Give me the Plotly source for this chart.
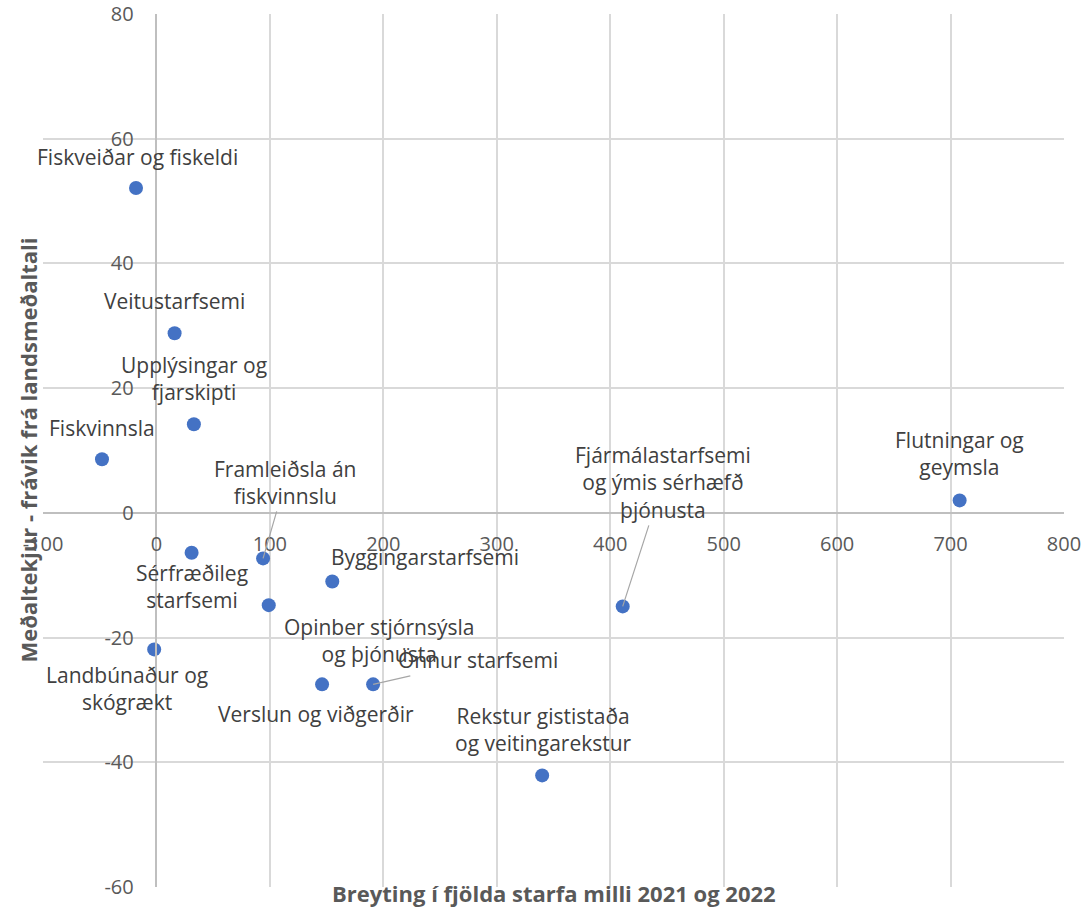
import plotly.graph_objects as go

names = [
    "Fiskveiðar og fiskeldi",
    "Veitustarfsemi",
    "Upplýsingar og<br>fjarskipti",
    "Fiskvinnsla",
    "Flutningar og<br>geymsla",
    "Fjármálastarfsemi<br>og ýmis sérhæfð<br>þjónusta",
    "Framleiðsla án<br>fiskvinnslu",
    "Sérfræðileg<br>starfsemi",
    "Byggingarstarfsemi",
    "Opinber stjórnsýsla<br>og þjónusta",
    "Önnur starfsemi",
    "Verslun og viðgerðir",
    "Landbúnaður og<br>skógrækt",
    "Rekstur gististaða<br>og veitingarekstur",
]
job_change = [-18, 16, 33, -48, 708, 411, 94, 31, 155, 99, 191, 146, -2, 340]
income_dev = [52.1, 28.8, 14.2, 8.6, 2.0, -15.0, -7.3, -6.4, -11.0, -14.8, -27.5, -27.5, -21.9, -42.1]

x_ticks = [-100, 0, 100, 200, 300, 400, 500, 600, 700, 800]
x_tick_labels = ["-100", "0", "100", "200", "300", "400", "500", "600", "700", "800"]
y_ticks = [-60, -40, -20, 0, 20, 40, 60, 80]
y_tick_labels = ["-60", "-40", "-20", "0", "20", "40", "60", "80"]

x_title = "Breyting í fjölda starfa milli 2021 og 2022"
y_title = "Meðaltekjur - frávik frá landsmeðaltali"

# label placement (pixel offsets): (xshift, yshift, leader, ax, ay)
placement = [
    (1, 31, False, 0, 0),
    (0, 32, False, 0, 0),
    (0, 46, False, 0, 0),
    (0, 31, False, 0, 0),
    (0, 47, False, 0, 0),
    (0, 0, True, 40, -124),
    (0, 0, True, 22, -76),
    (0, -34, False, 0, 0),
    (93, 24, False, 0, 0),
    (110, -35, False, 0, 0),
    (0, 0, True, 105, -24),
    (-6, -30, False, 0, 0),
    (-27, -39, False, 0, 0),
    (1, 46, False, 0, 0),
]

FONT = "Open Sans"
GRAY = "#595959"
LFS = 21

fig = go.Figure()
fig.add_trace(go.Scatter(
    x=job_change, y=income_dev, mode="markers",
    marker=dict(size=14, color="#4472C4"),
    showlegend=False, hoverinfo="x+y",
))

for nm, xv, yv, (xs, ys, leader, ax, ay) in zip(names, job_change, income_dev, placement):
    if leader:
        fig.add_annotation(x=xv, y=yv, text=nm, showarrow=True, arrowhead=0,
                           arrowwidth=1.2, arrowcolor="#a6a6a6", ax=ax, ay=ay,
                           font=dict(family=FONT, size=LFS, color="#404040"))
    else:
        fig.add_annotation(x=xv, y=yv, text=nm, showarrow=False,
                           xshift=xs, yshift=ys,
                           font=dict(family=FONT, size=LFS, color="#404040"))

fig.add_annotation(text=f"<b>{x_title}</b>", xref="paper", yref="paper",
                   x=0.5, y=0, yshift=-6, yanchor="middle", xanchor="center",
                   showarrow=False,
                   font=dict(family=FONT, size=22, color=GRAY))
fig.add_annotation(text=f"<b>{y_title}</b>", xref="paper", yref="paper",
                   x=0, xshift=-16, y=0.5, xanchor="center", yanchor="middle",
                   textangle=-90, showarrow=False,
                   font=dict(family=FONT, size=22, color=GRAY))

fig.update_layout(
    width=1081, height=907,
    margin=dict(l=43, r=17, t=14, b=20, autoexpand=False),
    paper_bgcolor="white", plot_bgcolor="white",
    font=dict(family=FONT, color=GRAY),
    xaxis=dict(range=[-100, 800], tickvals=x_ticks, ticktext=x_tick_labels,
               showgrid=True, gridcolor="#d9d9d9", gridwidth=1.5, zeroline=False,
               anchor="free", position=60 / 140, showline=True,
               linecolor="#bfbfbf", linewidth=1.5, automargin=False,
               ticklabeloverflow="allow",
               ticks="outside", ticklen=13, tickcolor="rgba(0,0,0,0)",
               tickfont=dict(family=FONT, size=20, color=GRAY)),
    yaxis=dict(range=[-60, 80], tickvals=y_ticks, ticktext=y_tick_labels,
               showgrid=True, gridcolor="#d9d9d9", gridwidth=1.5, zeroline=False,
               anchor="free", position=100 / 900, showline=True,
               linecolor="#bfbfbf", linewidth=1.5, automargin=False,
               ticklabeloverflow="allow",
               ticks="outside", ticklen=18, tickcolor="rgba(0,0,0,0)",
               tickfont=dict(family=FONT, size=20, color=GRAY)),
)

fig.write_html("out.html", config={"displayModeBar": False},
               post_script="document.body.style.margin='0px';")
